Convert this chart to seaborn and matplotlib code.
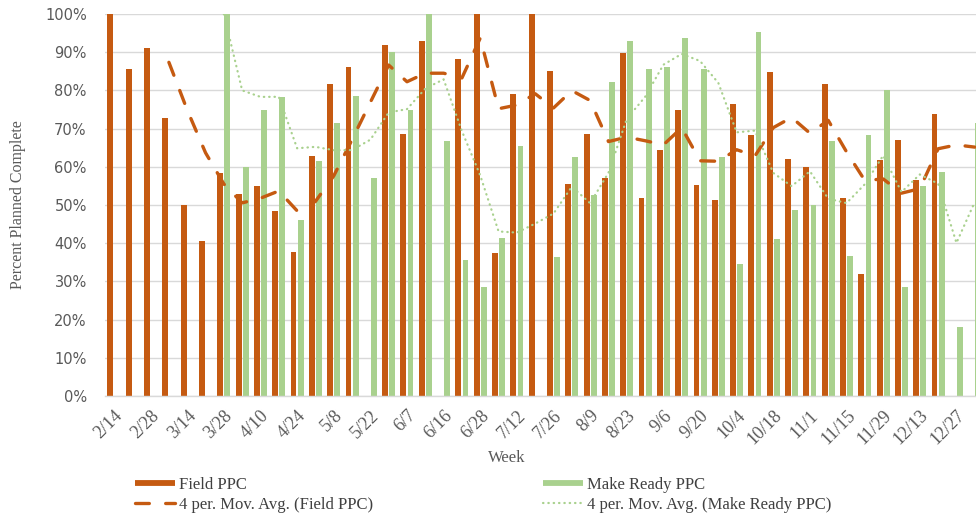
import numpy as np
import pandas as pd
import matplotlib
matplotlib.use("Agg")
import matplotlib.pyplot as plt
from matplotlib.lines import Line2D
from matplotlib.ticker import FuncFormatter
import seaborn as sns

nan = np.nan

# Weekly PPC values (percent); blank weeks are NaN
field_ppc = [100, 85.5, 91.2, 72.7, 50.1, 40.7, 58.5, 52.9, 55.0, 48.3, 37.7, 62.7,
             81.8, 86.2, nan, 91.9, 68.7, 92.9, nan, 88.2, 100, 37.4, 79.1, 100,
             85.1, 55.6, 68.7, 57.0, 89.8, 51.8, 64.4, 74.9, 55.2, 51.3, 76.5, 68.4,
             84.8, 62.0, 60.0, 81.8, 51.8, 32.0, 61.7, 66.9, 56.5, 73.8, nan, nan]
make_ready_ppc = [nan, nan, nan, nan, nan, nan, 100, 60.0, 74.9, 78.4, 46.1, 61.5,
                  71.4, 78.5, 57.0, 90.0, 74.9, 100, 66.7, 35.7, 28.5, 41.4, 65.5, nan,
                  36.4, 62.5, 52.5, 82.3, 92.9, 85.5, 86.2, 93.6, 85.5, 62.5, 34.5, 95.4,
                  41.2, 48.6, 50.1, 66.7, 36.6, 68.4, 80.1, 28.5, 55.0, 58.7, 18.1, 71.4]

# Labels shown on every other week
tick_labels = ["2/14", "2/28", "3/14", "3/28", "4/10", "4/24", "5/8", "5/22", "6/7",
               "6/16", "6/28", "7/12", "7/26", "8/9", "8/23", "9/6", "9/20", "10/4",
               "10/18", "11/1", "11/15", "11/29", "12/13", "12/27"]

series_names = ["Field PPC", "Make Ready PPC"]
ma_names = ["4 per. Mov. Avg. (Field PPC)", "4 per. Mov. Avg. (Make Ready PPC)"]
colors = {"Field PPC": "#C55A11", "Make Ready PPC": "#A9D18E"}

n_weeks = len(field_ppc)
week = np.arange(n_weeks)

bars = pd.DataFrame({
    "week": np.concatenate([week, week]),
    "ppc": np.concatenate([field_ppc, make_ready_ppc]),
    "series": [series_names[0]] * n_weeks + [series_names[1]] * n_weeks,
})


def moving_average(values, period=4):
    s = pd.Series(values, dtype=float).rolling(period, min_periods=1).mean()
    s.iloc[:period - 1] = np.nan
    return s.values


field_ma = moving_average(field_ppc)
ready_ma = moving_average(make_ready_ppc)

sns.set_style("white")
plt.rcParams["font.family"] = ["Liberation Serif", "DejaVu Serif"]

W, H = 976, 518
fig = plt.figure(figsize=(W / 100, H / 100), dpi=100)
left_px, step_px = 104.8, 18.315
ax = fig.add_axes([left_px / W, (H - 396) / H, n_weeks * step_px / W, 382 / H])

sns.barplot(data=bars, x="week", y="ppc", hue="series", hue_order=series_names,
            order=list(week), palette=colors, width=0.78, gap=0.18,
            saturation=1, linewidth=0, errorbar=None, legend=False, ax=ax,
            zorder=2)

sns.lineplot(x=week, y=field_ma, ax=ax, color=colors["Field PPC"], lw=2.4,
             legend=False, zorder=3)
sns.lineplot(x=week, y=ready_ma, ax=ax, color=colors["Make Ready PPC"], lw=1.6,
             legend=False, zorder=3)
ax.lines[0].set_dashes((4.15, 4.9))
ax.lines[0].set_dash_capstyle("round")
ax.lines[1].set_dashes((0.2, 2.2))
ax.lines[1].set_dash_capstyle("round")

ax.set_xlim(-0.5, n_weeks - 0.5)
ax.set_ylim(0, 100)
ax.set_yticks(np.arange(0, 101, 10))
ax.yaxis.set_major_formatter(FuncFormatter(lambda v, _: f"{v:.0f}%"))
ax.set_xticks(week[::2])
ax.set_xticklabels(tick_labels, rotation=45, ha="right", rotation_mode="anchor",
                   fontsize=13, color="#595959")
for lab in ax.get_yticklabels():
    lab.set_family("DejaVu Sans")
ax.tick_params(axis="y", length=0, pad=13, labelsize=10.5, labelcolor="#595959")
ax.tick_params(axis="x", length=0, pad=8)

ax.grid(axis="y", color="#D9D9D9", lw=1, zorder=0)
ax.grid(axis="x", visible=False)
ax.set_axisbelow(True)
for side in ["top", "right", "left"]:
    ax.spines[side].set_visible(False)
ax.spines["bottom"].set_color("#D9D9D9")
ax.spines["bottom"].set_linewidth(1)

ax.set_xlabel("")
ax.set_ylabel("")
fig.text(18 / W, 1 - 205 / H, "Percent Planned Complete", rotation=90,
         ha="center", va="center", fontsize=11.5, color="#595959")
fig.text(507 / W, 1 - 458 / H, "Week", ha="center", va="center",
         fontsize=12, color="#595959")

# Legend: one column per series, bars above their moving averages
bar_handles = [Line2D([], [], color=colors[s], lw=4.2, solid_capstyle="butt")
               for s in series_names]
field_ma_handle = Line2D([], [], color=colors["Field PPC"], lw=2.4,
                         dashes=(4.15, 4.9), dash_capstyle="round")
ready_ma_handle = Line2D([], [], color=colors["Make Ready PPC"], lw=1.6,
                         dashes=(0.2, 2.2), dash_capstyle="round")

legend_kw = dict(loc="upper left", frameon=False, fontsize=12, handlelength=2.4,
                 handletextpad=0.25, labelspacing=0.22, borderpad=0,
                 borderaxespad=0, labelcolor="#404040")
fig.legend([bar_handles[0], field_ma_handle], [series_names[0], ma_names[0]],
           bbox_to_anchor=(135 / W, 1 - 477 / H), **legend_kw)
fig.legend([bar_handles[1], ready_ma_handle], [series_names[1], ma_names[1]],
           bbox_to_anchor=(543 / W, 1 - 477 / H), **legend_kw)

fig.savefig("out.png", dpi=100)
